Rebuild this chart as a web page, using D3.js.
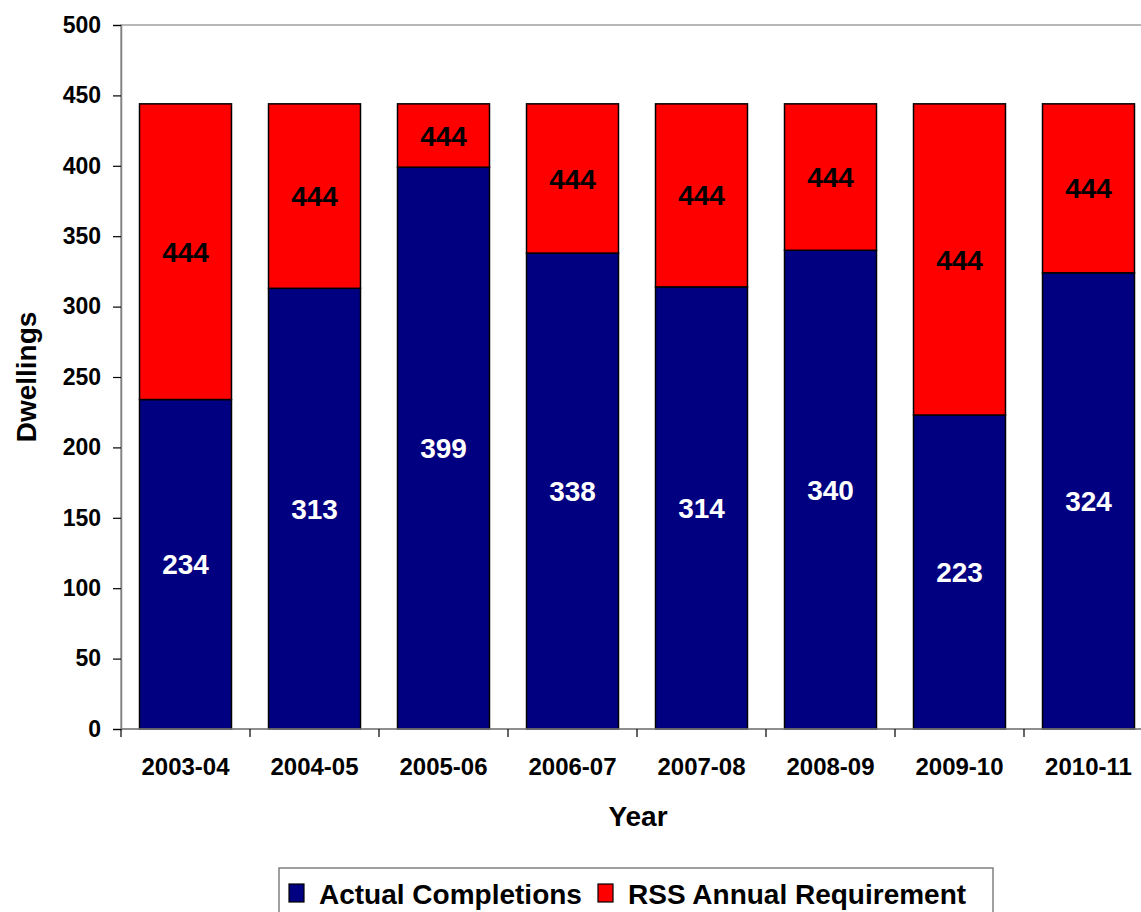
<!DOCTYPE html>
<html>
<head>
<meta charset="utf-8">
<script src="https://cdn.jsdelivr.net/npm/d3@7"></script>
<style>
  html, body { margin: 0; padding: 0; background: #fff; }
  svg { display: block; }
  text { font-family: "Liberation Sans", Arial, sans-serif; font-weight: bold; }
</style>
</head>
<body>
<svg id="chart" width="1141" height="912"></svg>
<script>
const categories = ["2003-04", "2004-05", "2005-06", "2006-07", "2007-08", "2008-09", "2009-10", "2010-11"];
const actualCompletions = [234, 313, 399, 338, 314, 340, 223, 324];
const rssRequirement = [444, 444, 444, 444, 444, 444, 444, 444];
const yTickValues = [0, 50, 100, 150, 200, 250, 300, 350, 400, 450, 500];
const seriesNames = ["Actual Completions", "RSS Annual Requirement"];
const seriesColors = ["#000080", "#FF0000"];

const svg = d3.select("#chart");
const plot = { left: 121, right: 1153, top: 25, bottom: 729 };

const x = d3.scaleBand().domain(categories).range([plot.left, plot.right])
  .paddingInner(0.287).paddingOuter(0.1435);
const y = d3.scaleLinear().domain([0, 500]).range([plot.bottom, plot.top]);

// plot area border (top / right)
svg.append("rect")
  .attr("x", plot.left).attr("y", plot.top)
  .attr("width", plot.right - plot.left).attr("height", plot.bottom - plot.top)
  .attr("fill", "none").attr("stroke", "#a0a0a0").attr("stroke-width", 1.5);

const rows = categories.map((c, i) => ({ cat: c, actual: actualCompletions[i], req: rssRequirement[i] }));

// blue segments
svg.append("g").selectAll("rect").data(rows).join("rect")
  .attr("x", d => x(d.cat)).attr("width", x.bandwidth())
  .attr("y", d => y(d.actual)).attr("height", d => y(0) - y(d.actual))
  .attr("fill", seriesColors[0]).attr("stroke", "#000").attr("stroke-width", 1.5);

// red segments
svg.append("g").selectAll("rect").data(rows).join("rect")
  .attr("x", d => x(d.cat)).attr("width", x.bandwidth())
  .attr("y", d => y(d.req)).attr("height", d => y(d.actual) - y(d.req))
  .attr("fill", seriesColors[1]).attr("stroke", "#000").attr("stroke-width", 1.5);

// labels
svg.append("g").selectAll("text").data(rows).join("text")
  .attr("x", d => x(d.cat) + x.bandwidth() / 2)
  .attr("y", d => y(d.actual / 2))
  .attr("dy", "0.36em").attr("text-anchor", "middle")
  .attr("fill", "#fff").style("font-size", "28px")
  .text(d => d.actual);

svg.append("g").selectAll("text").data(rows).join("text")
  .attr("x", d => x(d.cat) + x.bandwidth() / 2)
  .attr("y", d => y((d.actual + d.req) / 2))
  .attr("dy", "0.36em").attr("text-anchor", "middle")
  .attr("fill", "#000").style("font-size", "28px")
  .text(d => d.req);

// y axis
const yAxis = svg.append("g").attr("transform", `translate(${plot.left},0)`)
  .call(d3.axisLeft(y).tickValues(yTickValues).tickSize(8).tickPadding(12));
yAxis.select(".domain").attr("stroke", "#808080").attr("stroke-width", 1.5);
yAxis.selectAll(".tick line").attr("stroke", "#000").attr("stroke-width", 1.2);
yAxis.selectAll(".tick text").style("font-size", "23px").attr("fill", "#000")
  .style("font-family", "'Liberation Sans', Arial, sans-serif").style("font-weight", "bold");

// x axis: ticks at category boundaries
const boundaries = categories.map(c => x(c) - x.step() * x.paddingOuter()).concat([plot.right]);
const xg = svg.append("g");
xg.append("line").attr("x1", plot.left).attr("x2", plot.right)
  .attr("y1", plot.bottom).attr("y2", plot.bottom)
  .attr("stroke", "#808080").attr("stroke-width", 1.5);
xg.selectAll("line.tk").data(boundaries).join("line").attr("class", "tk")
  .attr("x1", d => d).attr("x2", d => d)
  .attr("y1", plot.bottom).attr("y2", plot.bottom + 8)
  .attr("stroke", "#000").attr("stroke-width", 1.2);
xg.selectAll("text").data(categories).join("text")
  .attr("x", d => x(d) + x.bandwidth() / 2).attr("y", 775)
  .attr("text-anchor", "middle").style("font-size", "24px").attr("fill", "#000")
  .text(d => d);

// axis titles
svg.append("text").attr("transform", "translate(36,377) rotate(-90)")
  .attr("text-anchor", "middle").style("font-size", "28px").text("Dwellings");
svg.append("text").attr("x", 638).attr("y", 826)
  .attr("text-anchor", "middle").style("font-size", "28px").text("Year");

// legend
const lg = svg.append("g");
lg.append("rect").attr("x", 279).attr("y", 868).attr("width", 714).attr("height", 60)
  .attr("fill", "#fff").attr("stroke", "#808080").attr("stroke-width", 1.5);
const legendItems = [
  { name: seriesNames[0], color: seriesColors[0], sx: 289, tx: 319 },
  { name: seriesNames[1], color: seriesColors[1], sx: 598, tx: 628 }
];
legendItems.forEach(it => {
  lg.append("rect").attr("x", it.sx).attr("y", 884).attr("width", 15).attr("height", 18)
    .attr("fill", it.color).attr("stroke", "#000").attr("stroke-width", 1.2);
  lg.append("text").attr("x", it.tx).attr("y", 904).style("font-size", "28px").text(it.name);
});
</script>
</body>
</html>
